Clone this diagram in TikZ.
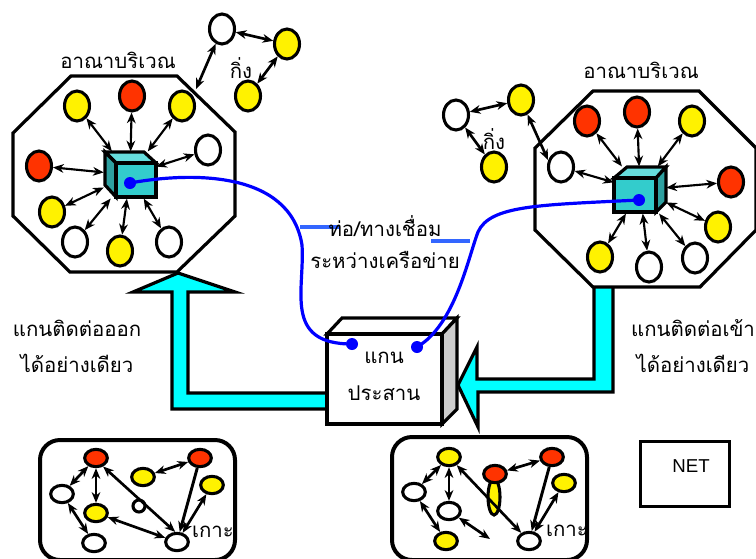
\documentclass[tikz,border=0pt]{standalone}
\usepackage{fontspec}
\newfontfamily\thaifont[Script=Thai]{Loma}
\setsansfont{Liberation Sans}
\usetikzlibrary{arrows.meta,shapes.geometric}
\definecolor{flowcyan}{RGB}{0,255,255}
\definecolor{nodered}{RGB}{255,51,0}
\definecolor{cubefront}{RGB}{51,204,204}
\definecolor{cubetop}{RGB}{102,221,221}
\definecolor{cubeside}{RGB}{46,160,160}
\definecolor{tagblue}{RGB}{51,102,255}

\begin{document}
\begin{tikzpicture}
		[x=0.75pt,y=-0.75pt,>={Stealth[length=8pt,width=6.5pt,inset=2.5pt]},
		host/.style ={ellipse, draw=black, line width=2.3pt, inner sep=0pt, minimum width=18.75pt, minimum height=22.5pt},
		hostY/.style = {host, fill=yellow},
		hostR/.style = {host, fill=nodered},
		hostW/.style = {host, fill=white},
		isle/.style = {host, minimum width=17pt, minimum height=13pt},
		isleY/.style = {isle, fill=yellow},
		isleR/.style = {isle, fill=nodered},
		isleW/.style = {isle, fill=white},
		hub/.style = {rectangle, minimum width=39pt, minimum height=35pt, inner sep=0pt},
		port/.style = {circle, fill=blue, inner sep=0pt, minimum size=9pt},
		thai/.style = {font=\thaifont\fontsize{15.3}{17}\selectfont, inner sep=0pt},
		outline/.style = {draw=black, line width=2.4pt, line join=miter},
		flow/.style = {outline, fill=flowcyan},
		wire/.style = {draw=blue, line width=2.4pt},
		tag/.style = {draw=tagblue, line width=2.4pt},
		link/.style = {<->, line width=1.6pt},
		span/.style = {<->, line width=2pt},
		]

		\path[use as bounding box,clip] (0,0) rectangle (756,558);

		% big arrows
		\draw[flow] (335,409) -- (172,409) -- (172,292) -- (133,292) -- (178,273) -- (235,292) -- (188,292) -- (188,393) -- (335,393);
		\draw[flow] (594,280) -- (594,379) -- (477,379) -- (477,347) -- (458,385) -- (478,427) -- (478,392) -- (613,392) -- (613,280);

		% octagons
		\draw[outline, fill=white] (71,76) -- (177,76) -- (235,132) -- (235,216) -- (177,272) -- (70,272) -- (13,216) -- (13,133) -- cycle;
		\draw[outline, fill=white] (593,91) -- (699,91) -- (756,148) -- (756,230) -- (700,287) -- (593,287) -- (535,230) -- (535,148) -- cycle;

		% left cube
		\draw[outline, fill=cubetop] (116,163) -- (105,152) -- (144,152) -- (156,163) -- cycle;
		\draw[outline, fill=cubeside] (116,163) -- (105,152) -- (105,185) -- (116,197) -- cycle;
		\draw[outline, fill=cubefront] (116,163) rectangle (156,197);
		\draw (130,175) node[hub] (hubL) {};

		% right cube
		\draw[outline, fill=cubetop] (614,178) -- (627,167) -- (666,167) -- (656,178) -- cycle;
		\draw[outline, fill=cubeside] (656,178) -- (666,167) -- (666,202) -- (656,212) -- cycle;
		\draw[outline, fill=cubefront] (614,178) rectangle (656,212);
		\draw (640,190) node[hub] (hubR) {};

		% left domain
		\draw (77,106) node[hostY] (l1) {};
		\draw (132,96) node[hostR] (l2) {};
		\draw (182,106) node[hostY] (l3) {};
		\draw (208,150) node[hostW] (l4) {};
		\draw (39,166) node[hostR] (l5) {};
		\draw (52,212) node[hostY] (l6) {};
		\draw (75,242) node[hostW] (l7) {};
		\draw (120,251) node[hostY] (l8) {};
		\draw (169,242) node[hostW] (l9) {};

		\draw (222,29) node[hostW] (s1) {};
		\draw (287,44) node[hostY] (s2) {};
		\draw (248,96) node[hostY] (s3) {};
		\coordinate (edgeL) at (196,89);

		% right domain
		\draw (587,121) node[hostR] (r1) {};
		\draw (637,112) node[hostR] (r2) {};
		\draw (692,121) node[hostY] (r3) {};
		\draw (731,182) node[hostR] (r4) {};
		\draw (718,227) node[hostY] (r5) {};
		\draw (695,258) node[hostW] (r6) {};
		\draw (649,267) node[hostW] (r7) {};
		\draw (600,257) node[hostY] (r8) {};
		\draw (561,167) node[hostW] (r9) {};

		\draw (456,115) node[hostW] (t1) {};
		\draw (521,100) node[hostY] (t2) {};
		\draw (494,167) node[hostY] (t3) {};
		\coordinate (edgeR) at (548,160);

		\path[link]
		(hubL) edge (l1)
		(hubL) edge (l2)
		(hubL) edge (l3)
		(hubL) edge (l4)
		(hubL) edge (l5)
		(hubL) edge (l6)
		(hubL) edge (l7)
		(hubL) edge (l8)
		(hubL) edge (l9)
		(hubR) edge (r1)
		(hubR) edge (r2)
		(hubR) edge (r3)
		(hubR) edge (r4)
		(hubR) edge (r5)
		(hubR) edge (r6)
		(hubR) edge (r7)
		(hubR) edge (r8)
		(hubR) edge (r9);

		\path[span]
		(s1) edge (edgeL)
		(s1) edge (s2)
		(s2) edge (s3)
		(t1) edge (t2)
		(t1) edge (t3)
		(t2) edge (edgeR);

		% core box
		\draw[outline, fill=white] (327,334) -- (342,318) -- (457,318) -- (442,334) -- cycle;
		\draw[outline, fill=black!20] (442,334) -- (457,318) -- (457,409) -- (442,424) -- cycle;
		\draw[outline, fill=white] (327,334) rectangle (442,424);

		% tags and texts
		\coordinate (tagLa) at (300,227);
		\coordinate (tagLb) at (340,227);
		\coordinate (tagRa) at (431,241);
		\coordinate (tagRb) at (470,241);
		\draw[tag] (tagLa) -- (tagLb);
		\draw[tag] (tagRa) -- (tagRb);

		\draw (118,60) node[thai] (areaL) {อาณาบริเวณ};
		\draw (641,70) node[thai] (areaR) {อาณาบริเวณ};
		\draw (241,68) node[thai] (branchL) {กิ่ง};
		\draw (494,139) node[thai] (branchR) {กิ่ง};
		\draw (385,226) node[thai] (pipe) {ท่อ/ทางเชื่อม};
		\draw (385,260) node[thai] (between) {ระหว่างเครือข่าย};
		\draw (384,358) node[thai] (core1) {แกน};
		\draw (384,393) node[thai] (core2) {ประสาน};
		\draw (77,328) node[thai] (outL) {แกนติดต่อออก};
		\draw (77,363) node[thai] (onlyL) {ได้อย่างเดียว};
		\draw (693,328) node[thai] (inR) {แกนติดต่อเข้า};
		\draw (693,363) node[thai] (onlyR) {ได้อย่างเดียว};

		% wires
		\draw (130,183) node[port] (portL) {};
		\draw (352,344) node[port] (coreL) {};
		\draw (639,200) node[port] (portR) {};
		\draw (417,347) node[port] (coreR) {};
		\coordinate (bendL) at (302,245);
		\coordinate (bendR) at (478,232);
		\draw[wire] (portL.center) .. controls (190,172) and (290,170) .. (bendL) .. controls (305,290) and (283,344) .. (coreL.center);
		\draw[wire] (portR.center) .. controls (540,205) and (490,205) .. (bendR) .. controls (468,258) and (455,325) .. (coreR.center);

		% islands
		\draw[outline, line width=3pt, rounded corners=15pt, fill=white] (40,440) rectangle (235,560);
		\draw[outline, line width=3pt, rounded corners=15pt, fill=white] (392,437) rectangle (587,560);

		\draw (96,458) node[isleR] (a1) {};
		\draw (143,477) node[isleY] (a2) {};
		\draw (200,458) node[isleR] (a3) {};
		\draw (212,485) node[isleY] (a4) {};
		\draw (62,494) node[isleW] (a5) {};
		\draw (96,513) node[isleY] (a6) {};
		\draw (139,506) node[host, fill=white, minimum width=9pt, minimum height=9pt] (a7) {};
		\draw (94,543) node[isleW] (a8) {};
		\draw (177,542) node[isleW] (a9) {};
		\draw (213,532) node[thai] (isleL) {เกาะ};

		\draw (449,457) node[isleY] (b1) {};
		\draw (552,457) node[isleR] (b2) {};
		\draw (494,497) node[host, fill=yellow, minimum width=9pt, minimum height=27pt] (b3) {};
		\draw (495,474) node[isleR] (b4) {};
		\draw (564,483) node[isleY] (b5) {};
		\draw (414,492) node[isleW] (b6) {};
		\draw (449,511) node[isleW] (b7) {};
		\draw (446,541) node[isleY] (b8) {};
		\draw (529,541) node[isleW] (b9) {};
		\draw (567,531) node[thai] (isleR) {เกาะ};
		\coordinate (freeB) at (490,539);

		\path[span]
		(a1) edge (a5)
		(a1) edge (a6)
		(a1.-50) edge (a9.100)
		(a6) edge (a9)
		(a5) edge (a8)
		(a2) edge (a3)
		(a4) edge (a9)
		(b1) edge (b6)
		(b1) edge (b7)
		(b1) edge (b9)
		(b6) edge (b8)
		(b7) edge (freeB)
		(b4) edge (b2)
		(b5) edge (b9);
		\path[->, line width=2.2pt]
		(a3) edge (a9)
		(b2) edge (b9);

		% legend
		\draw (685,474) node[rectangle, outline, minimum width=67pt, minimum height=49pt] (netbox) {};
		\draw (691,466) node[font=\sffamily\fontsize{14}{16}\selectfont, inner sep=0pt] (net) {NET};
	\end{tikzpicture}
\end{document}
